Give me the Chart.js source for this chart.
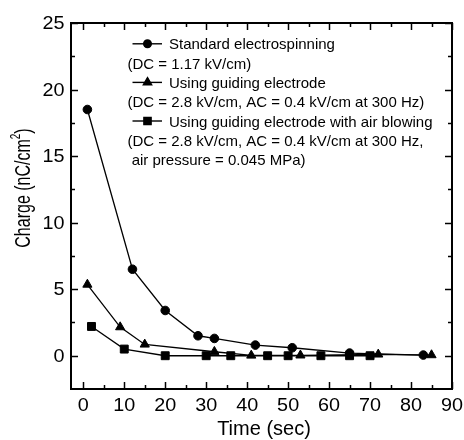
<!DOCTYPE html>
<html>
<head>
<meta charset="utf-8">
<script src="https://cdn.jsdelivr.net/npm/chart.js@4.4.1/dist/chart.umd.min.js"></script>
<style>
  html, body { margin: 0; padding: 0; background: #fff; }
  canvas { display: block; }
</style>
</head>
<body>
<canvas id="c" width="464" height="440"></canvas>
<script>
/* Charge decay vs. time — three electrospinning set-ups */

// ── data ──
const stdX   = [1, 12, 20, 28, 32, 42, 51, 65, 83];
const stdY   = [18.5, 6.5, 3.4, 1.5, 1.3, 0.8, 0.6, 0.2, 0.05];
const guideX = [1, 9, 15, 32, 41, 53, 72, 85];
const guideY = [5.35, 2.15, 0.85, 0.3, 0.02, 0.03, 0.1, 0.05];
const airX   = [2, 10, 20, 30, 36, 45, 50, 58, 65, 70];
const airY   = [2.2, 0.5, 0, 0, 0, 0, 0, 0, 0, 0];

const xTicks = [0, 10, 20, 30, 40, 50, 60, 70, 80, 90];
const xMinor = [5, 15, 25, 35, 45, 55, 65, 75, 85];
const yTicks = [0, 5, 10, 15, 20, 25];
const yMinor = [2.5, 7.5, 12.5, 17.5, 22.5];

const seriesLabels = [
  'Standard electrospinning',
  'Using guiding electrode',
  'Using guiding electrode with air blowing'
];
const legendLines = [
  { text: seriesLabels[0], series: 0 },
  { text: '(DC = 1.17 kV/cm)' },
  { text: seriesLabels[1], series: 1 },
  { text: '(DC = 2.8 kV/cm, AC = 0.4 kV/cm at 300 Hz)' },
  { text: seriesLabels[2], series: 2 },
  { text: '(DC = 2.8 kV/cm, AC = 0.4 kV/cm at 300 Hz,' },
  { text: ' air pressure = 0.045 MPa)' }
];
const xTitle = 'Time (sec)';
const yTitle = ['Charge (nC/cm', '2', ')'];

const FONT = "'Liberation Sans', Arial, sans-serif";

const pts = (xs, ys) => xs.map((x, i) => ({ x, y: ys[i] }));

// text with optional sideways stretch (the scanned figure is not uniformly scaled)
function sText(ctx, txt, x, y, align, size, sx = 1) {
  ctx.save();
  ctx.translate(x, y);
  ctx.scale(sx, 1);
  ctx.font = `${size}px ${FONT}`;
  ctx.textAlign = align;
  ctx.textBaseline = 'alphabetic';
  ctx.fillStyle = '#000';
  ctx.fillText(txt, 0, 0);
  ctx.restore();
}

const framePlugin = {
  id: 'frame',
  afterDraw(chart) {
    const { ctx, chartArea: a, scales: { x, y } } = chart;
    ctx.save();
    ctx.strokeStyle = '#000';
    ctx.lineWidth = 2;
    ctx.strokeRect(a.left, a.top, a.right - a.left, a.bottom - a.top);

    // inward ticks on all four sides
    ctx.lineWidth = 1.5;
    const seg = (x1, y1, x2, y2) => { ctx.beginPath(); ctx.moveTo(x1, y1); ctx.lineTo(x2, y2); ctx.stroke(); };
    xTicks.concat(xMinor).forEach(v => {
      const px = Math.round(x.getPixelForValue(v)) + 0.5;
      const len = xTicks.includes(v) ? 7 : 4;
      seg(px, a.bottom, px, a.bottom - len);
      seg(px, a.top, px, a.top + len);
    });
    yTicks.concat(yMinor).forEach(v => {
      const py = Math.round(y.getPixelForValue(v)) + 0.5;
      const len = yTicks.includes(v) ? 7 : 4;
      seg(a.left, py, a.left + len, py);
      seg(a.right, py, a.right - len, py);
    });

    // tick labels
    xTicks.forEach(v => sText(ctx, String(v), x.getPixelForValue(v), 411, 'center', 18, 1.1));
    yTicks.forEach(v => sText(ctx, String(v), 64.5, y.getPixelForValue(v) + 6, 'right', 18, 1.1));

    // axis titles
    sText(ctx, xTitle, 264, 435, 'center', 20);
    ctx.save();
    ctx.translate(29.5, 188);
    ctx.scale(1.4, 1);
    ctx.rotate(-Math.PI / 2);
    ctx.fillStyle = '#000';
    ctx.textBaseline = 'alphabetic';
    ctx.font = `16px ${FONT}`;
    const w0 = ctx.measureText(yTitle[0]).width;
    const w2 = ctx.measureText(yTitle[2]).width;
    ctx.font = `10px ${FONT}`;
    const w1 = ctx.measureText(yTitle[1]).width;
    let cx = -(w0 + w1 + w2) / 2;
    ctx.font = `16px ${FONT}`;
    ctx.fillText(yTitle[0], cx, 0); cx += w0;
    ctx.font = `10px ${FONT}`;
    ctx.fillText(yTitle[1], cx, -7); cx += w1;
    ctx.font = `16px ${FONT}`;
    ctx.fillText(yTitle[2], cx, 0);
    ctx.restore();

    // legend
    legendLines.forEach((ln, i) => {
      const base = 49.3 + 19.3 * i;
      if (ln.series !== undefined) {
        const ds = chart.data.datasets[ln.series];
        const cy = base - 5.5;
        ctx.strokeStyle = '#000';
        ctx.lineWidth = 1.4;
        seg(132.5, cy, 162, cy);
        ctx.fillStyle = '#000';
        Chart.helpers.drawPoint(ctx, {
          pointStyle: ds.pointStyle, radius: ds.pointRadius - 0.5, rotation: 0, borderWidth: 1
        }, 147.5, cy);
        ctx.fill();
        sText(ctx, ln.text, 169, base, 'left', 15);
      } else {
        sText(ctx, ln.text, 127.5, base, 'left', 15);
      }
    });
    ctx.restore();
  }
};

const common = {
  showLine: true, borderColor: '#000', borderWidth: 1.3,
  pointBackgroundColor: '#000', pointBorderColor: '#000', pointBorderWidth: 1,
  tension: 0, fill: false
};

new Chart(document.getElementById('c'), {
  type: 'scatter',
  data: {
    datasets: [
      { ...common, label: seriesLabels[0], data: pts(stdX, stdY), pointStyle: 'circle', pointRadius: 4.3 },
      { ...common, label: seriesLabels[1], data: pts(guideX, guideY), pointStyle: 'triangle', pointRadius: 5.3 },
      { ...common, label: seriesLabels[2], data: pts(airX, airY), pointStyle: 'rect', pointRadius: 5.6 }
    ]
  },
  options: {
    responsive: false, animation: false, devicePixelRatio: 1,
    layout: { padding: { left: 71, right: 12, top: 23, bottom: 51 } },
    plugins: { legend: { display: false }, tooltip: { enabled: false } },
    scales: {
      x: {
        type: 'linear', min: -3, max: 90,
        grid: { display: false }, border: { display: false },
        ticks: { display: false }, afterFit: s => { s.height = 0; }
      },
      y: {
        type: 'linear', min: -2.5, max: 25,
        grid: { display: false }, border: { display: false },
        ticks: { display: false }, afterFit: s => { s.width = 0; }
      }
    }
  },
  plugins: [framePlugin]
});
</script>
</body>
</html>
